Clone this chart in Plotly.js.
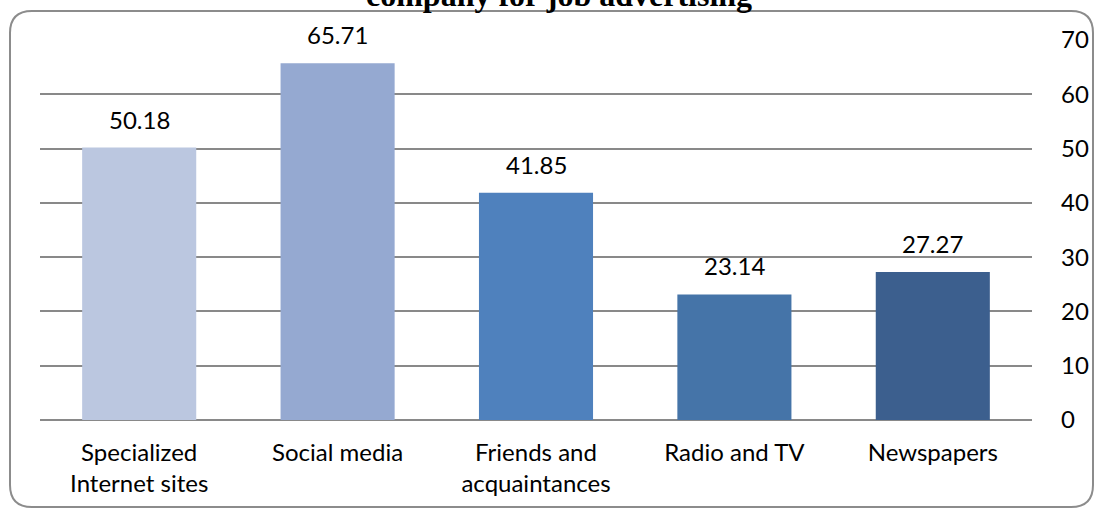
<!DOCTYPE html>
<html>
<head>
<meta charset="utf-8">
<script src="https://cdn.plot.ly/plotly-3.0.1.min.js"></script>
<style>html,body{margin:0;padding:0;background:#fff;}#chart{width:1096px;height:510px;}</style>
</head>
<body>
<div id="chart"></div>
<script>
var categories = ["Specialized<br>Internet sites", "Social media", "Friends and<br>acquaintances", "Radio and TV", "Newspapers"];
var values = [50.18, 65.71, 41.85, 23.14, 27.27];
var valueLabels = ["50.18", "65.71", "41.85", "23.14", "27.27"];
var barColors = ["#BBC7E0", "#95A9D1", "#4F81BD", "#4574A8", "#3C5F8E"];
var yTicks = [0, 10, 20, 30, 40, 50, 60, 70];
var titleText = "company for job advertising";

var W = 1096, H = 510;
var mL = 40, mR = 64, mT = 40, mB = 90;
var pw = W - mL - mR, ph = H - mT - mB;
function px(x) { return (x - mL) / pw; }
function py(y) { return (H - mB - y) / ph; }

// rounded border path in paper coordinates
var bx0 = 10, bx1 = 1093, by0 = 11, by1 = 507, r = 22;
var path = "M " + px(bx0 + r) + "," + py(by0) +
  " L " + px(bx1 - r) + "," + py(by0) +
  " Q " + px(bx1) + "," + py(by0) + " " + px(bx1) + "," + py(by0 + r) +
  " L " + px(bx1) + "," + py(by1 - r) +
  " Q " + px(bx1) + "," + py(by1) + " " + px(bx1 - r) + "," + py(by1) +
  " L " + px(bx0 + r) + "," + py(by1) +
  " Q " + px(bx0) + "," + py(by1) + " " + px(bx0) + "," + py(by1 - r) +
  " L " + px(bx0) + "," + py(by0 + r) +
  " Q " + px(bx0) + "," + py(by0) + " " + px(bx0 + r) + "," + py(by0) + " Z";

var trace = {
  type: "bar",
  x: categories,
  y: values,
  marker: { color: barColors, line: { width: 0 } },
  hoverinfo: "none"
};

var annotations = categories.map(function (c, i) {
  return {
    x: c, y: values[i], xref: "x", yref: "y",
    text: valueLabels[i], showarrow: false,
    yanchor: "bottom", yshift: 12,
    font: { family: "Lato, sans-serif", size: 24, color: "#000" }
  };
});
annotations.push({
  x: px(559), y: py(6), xref: "paper", yref: "paper",
  text: "<b>" + titleText + "</b>", showarrow: false,
  xanchor: "center", yanchor: "bottom", yshift: -9,
  font: { family: "Liberation Serif, Times New Roman, serif", size: 32, color: "#000" }
});

var layout = {
  width: W, height: H,
  margin: { l: mL, r: mR, t: mT, b: mB, pad: 0 },
  paper_bgcolor: "#fff", plot_bgcolor: "#fff",
  showlegend: false,
  bargap: 0.425,
  xaxis: {
    type: "category",
    showgrid: false, showline: false, zeroline: false, ticks: "",
    tickfont: { family: "Lato, sans-serif", size: 24, color: "#000" },
    ticklabelstandoff: 16
  },
  yaxis: {
    side: "right",
    range: [0, 70],
    tickvals: yTicks,
    ticktext: yTicks.map(String),
    showgrid: true, gridcolor: "#898989", gridwidth: 2,
    zeroline: true, zerolinecolor: "#898989", zerolinewidth: 2,
    showline: false, ticks: "",
    tickfont: { family: "Lato, sans-serif", size: 24, color: "#000" },
    ticklabelstandoff: 28
  },
  shapes: [{
    type: "path", xref: "paper", yref: "paper", path: path,
    line: { color: "#8C8C8C", width: 2 }, fillcolor: "rgba(0,0,0,0)", layer: "below"
  }],
  annotations: annotations
};

Plotly.newPlot("chart", [trace], layout, { displayModeBar: false, staticPlot: true });
</script>
</body>
</html>
